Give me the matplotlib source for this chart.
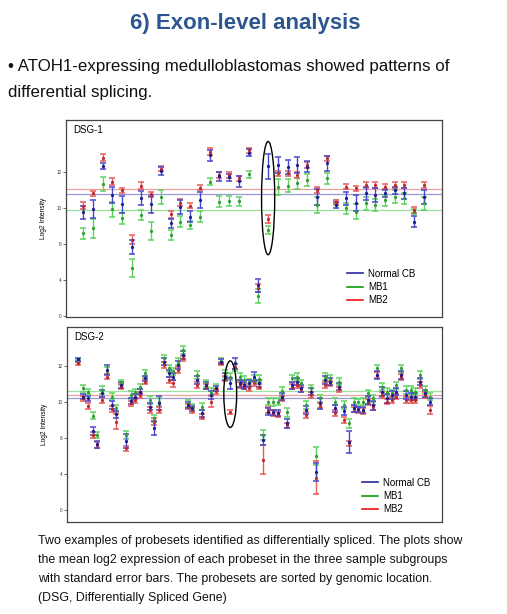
import numpy as np
import matplotlib
matplotlib.use('Agg')
import matplotlib.pyplot as plt
from matplotlib.patches import Ellipse
from matplotlib.lines import Line2D

plt.rcParams['font.family'] = ['Liberation Sans', 'DejaVu Sans']

# DSG-1: mean log2 intensity and standard error per probeset
dsg1_blue = [9.76, 9.94, 12.33, 10.72, 10.20, 7.82, 10.57, 10.20, 12.06, 9.15, 10.07, 9.52,
             10.44, 12.94, 11.78, 11.72, 11.50, 13.09, 5.70, 12.33, 12.39, 12.30, 12.39, 12.30,
             10.63, 12.48, 10.17, 10.54, 10.26, 10.82, 10.72, 10.82, 11.00, 10.82, 9.24, 10.63]
dsg1_blue_err = [.35, .50, .15, .43, .45, .40, .40, .45, .20, .25, .40, .30,
                 .45, .30, .25, .20, .30, .20, .35, .70, .45, .40, .45, .30,
                 .45, .40, .15, .35, .45, .35, .40, .20, .20, .30, .30, .40]
dsg1_green = [8.59, 8.87, 11.33, 9.93, 9.43, 6.69, 9.61, 8.72, 10.63, 8.50, 9.24, 9.06,
              9.52, 11.46, 10.35, 10.39, 10.39, 11.87, 5.10, 8.78, 11.19, 11.24, 11.37, 11.56,
              10.17, 11.65, 10.30, 9.98, 9.80, 10.26, 10.17, 10.44, 10.63, 10.54, 9.80, 10.26]
dsg1_green_err = [.30, .55, .40, .40, .30, .50, .30, .48, .40, .30, .30, .20,
                  .30, .20, .30, .30, .25, .20, .40, .20, .45, .35, .30, .35,
                  .45, .30, .15, .30, .40, .35, .35, .30, .35, .30, .15, .35]
dsg1_red = [10.13, 10.82, 12.80, 11.46, 10.98, 8.24, 11.24, 10.76, 12.20, 9.65, 10.30, 10.13,
            11.13, 13.13, 11.83, 11.83, 11.65, 13.22, 5.55, 9.39, 11.93, 11.93, 11.83, 12.39,
            11.00, 12.76, 10.35, 11.19, 11.09, 11.28, 11.28, 11.19, 11.28, 11.28, 9.89, 11.28]
dsg1_red_err = [.20, .15, .20, .20, .15, .25, .20, .15, .15, .20, .20, .15,
                .15, .20, .15, .15, .15, .15, .20, .20, .15, .15, .15, .15,
                .15, .15, .10, .15, .15, .15, .15, .15, .15, .15, .15, .15]
dsg1_means = {'blue': 10.78, 'green': 9.90, 'red': 11.06}
dsg1_circled = 19  # index of the circled probeset

# DSG-2
dsg2_blue = [12.37, 10.30, 10.20, 8.39, 7.65, 10.48, 11.78, 9.83, 9.31, 10.94, 7.83, 10.06,
             10.30, 10.57, 11.31, 9.74, 8.54, 9.93, 12.24, 11.59, 11.41, 12.06, 12.61, 9.83,
             9.65, 11.22, 9.37, 10.94, 10.39, 10.76, 12.24, 11.41, 11.04, 12.15, 11.04, 10.94,
             11.04, 11.41, 11.04, 7.89, 9.46, 9.42, 9.40, 10.30, 8.81, 10.94, 11.13, 10.76,
             9.56, 10.57, 6.10, 9.93, 11.22, 11.13, 9.65, 10.85, 9.50, 7.79, 9.65, 9.60,
             9.56, 10.11, 9.83, 11.50, 10.57, 10.20, 10.39, 10.57, 11.50, 10.39, 10.30, 10.30,
             11.13, 10.48, 10.02]
dsg2_blue_err = [.10, .15, .15, .20, .20, .20, .30, .20, .20, .15, .40, .15,
                 .15, .15, .15, .20, .40, .40, .20, .20, .20, .20, .20, .15,
                 .15, .20, .20, .20, .20, .15, .15, .20, .30, .30, .20, .20,
                 .20, .25, .20, .30, .20, .15, .15, .20, .25, .20, .20, .20,
                 .20, .20, .50, .30, .20, .20, .20, .20, .20, .60, .20, .15,
                 .15, .20, .25, .20, .25, .25, .20, .20, .20, .20, .20, .20,
                 .20, .20, .20]
dsg2_green = [12.30, 10.76, 10.57, 9.24, 8.17, 10.67, 11.75, 10.30, 9.65, 11.09, 8.17, 10.39,
              10.57, 10.85, 11.59, 10.11, 9.09, 10.00, 12.43, 11.87, 11.70, 12.24, 12.89, 9.93,
              9.74, 11.50, 9.74, 11.04, 10.57, 10.85, 12.30, 11.59, 11.41, 11.90, 11.41, 11.22,
              11.13, 11.30, 11.30, 8.17, 10.02, 10.00, 10.02, 10.61, 9.42, 11.31, 11.41, 11.04,
              9.83, 10.76, 7.00, 10.20, 11.41, 11.30, 10.02, 11.13, 9.83, 8.81, 10.02, 9.98,
              10.02, 10.48, 10.20, 11.87, 10.85, 10.57, 10.48, 10.94, 11.87, 10.67, 10.67, 10.57,
              11.50, 10.67, 10.30]
dsg2_green_err = [.10, .20, .15, .20, .15, .20, .20, .20, .20, .15, .20, .20,
                  .15, .15, .20, .20, .20, .20, .20, .20, .20, .20, .20, .20,
                  .15, .20, .20, .20, .20, .15, .15, .20, .20, .20, .20, .20,
                  .15, .20, .20, .30, .20, .20, .20, .20, .25, .20, .20, .20,
                  .20, .20, .50, .20, .20, .20, .20, .20, .20, .25, .20, .20,
                  .20, .20, .20, .20, .20, .20, .20, .20, .20, .20, .20, .20,
                  .20, .20, .20]
dsg2_red = [12.15, 10.20, 9.78, 8.17, 7.60, 10.11, 11.41, 9.61, 8.91, 10.85, 7.43, 9.93,
            10.10, 10.40, 11.13, 9.56, 8.90, 9.56, 12.06, 11.22, 11.04, 11.78, 12.43, 9.74,
            9.56, 10.94, 9.19, 10.85, 10.02, 10.60, 12.15, 11.31, 9.46, 11.96, 10.94, 10.85,
            10.76, 11.04, 10.85, 6.80, 9.56, 9.40, 9.30, 10.20, 8.70, 10.85, 10.94, 10.70,
            9.28, 10.40, 5.80, 9.80, 10.94, 11.04, 9.40, 10.70, 9.00, 7.70, 9.60, 9.55,
            9.50, 10.00, 9.70, 11.50, 10.40, 10.02, 10.11, 10.30, 11.40, 10.11, 10.11, 10.11,
            10.94, 10.40, 9.56]
dsg2_red_err = [.10, .15, .15, .15, .15, .15, .15, .15, .40, .15, .15, .15,
                .15, .15, .15, .15, .20, .15, .15, .15, .20, .15, .15, .15,
                .15, .15, .15, .15, .30, .15, .10, .15, .10, .15, .15, .15,
                .15, .15, .15, .80, .15, .15, .15, .15, .15, .15, .15, .15,
                .15, .15, .90, .15, .15, .15, .15, .15, .15, .15, .15, .15,
                .15, .15, .15, .15, .15, .15, .15, .15, .15, .15, .15, .15,
                .15, .15, .20]
dsg2_means = {'blue': 10.22, 'green': 10.60, 'red': 10.38}
dsg2_circled = 32

legend_labels = ['Normal CB', 'MB1', 'MB2']
ytick_pos = [4, 6, 8, 10, 12]
ytick_labels = ['0', '4', '8', '10', '12']

bar_col = {'blue': '#4848cc', 'green': '#5cd45c', 'red': '#e85a5a'}
dot_col = {'blue': '#1c1c8c', 'green': '#2e9e2e', 'red': '#c02828'}
mean_col = {'blue': '#9a9ad8', 'green': '#9ee09e', 'red': '#e8a0a0'}
leg_col = ['#2a2aa0', '#109a10', '#f01010']

W, H = 507, 614
fig = plt.figure(figsize=(W / 100, H / 100), dpi=100)


def px_axes(left, top, right, bottom):
    return fig.add_axes([left / W, 1 - bottom / H, (right - left) / W, (bottom - top) / H])


def panel(ax, series, means, circled, ell_w, ell_h, name, xlim, ylim, capsize, leg_anchor):
    n = len(series[0][1])
    x = np.arange(n)
    for key in ['green', 'red', 'blue']:
        ax.axhline(means[key], color=mean_col[key], lw=0.9, zorder=1)
    for key, vals, errs in series:
        ax.errorbar(x, vals, yerr=errs, fmt='.', ms=2.6, color=bar_col[key],
                    mfc=dot_col[key], mec=dot_col[key], elinewidth=1.0,
                    capsize=capsize, capthick=1.1, zorder=2)
    d = dict((k, v) for k, v, _ in series)
    yc = (max(d[k][circled] for k in d) + min(d[k][circled] for k in d)) / 2
    ax.add_patch(Ellipse((circled, yc), ell_w, ell_h, fill=False, ec='black', lw=1.0, zorder=3))
    ax.set_xlim(*xlim)
    ax.set_ylim(*ylim)
    ax.set_xticks([])
    ax.set_yticks(ytick_pos, ytick_labels)
    ax.tick_params(axis='y', labelsize=3.3, length=2, width=0.5, pad=1, colors='#333333')
    for s in ax.spines.values():
        s.set_color('#444444')
        s.set_linewidth(0.9)
    ax.set_ylabel('Log2 Intensity', fontsize=4.8)
    ax.yaxis.set_label_coords(-0.05, 0.5)
    ax.text(0.019, 0.975, name, transform=ax.transAxes, fontsize=7, va='top', ha='left')
    handles = [Line2D([], [], color=c, lw=1.2) for c in leg_col]
    ax.legend(handles, legend_labels, loc='center left', bbox_to_anchor=leg_anchor,
              frameon=False, fontsize=7, handlelength=1.65, handletextpad=0.5,
              labelspacing=0.35, borderpad=0, borderaxespad=0)


ax1 = px_axes(66, 120, 442, 317)
panel(ax1,
      [('green', dsg1_green, dsg1_green_err), ('red', dsg1_red, dsg1_red_err),
       ('blue', dsg1_blue, dsg1_blue_err)],
      dsg1_means, dsg1_circled, 1.35, 6.3, 'DSG-1',
      (-1.75, 36.85), (3.94, 14.9), 2.5, (0.747, 0.152))

ax2 = px_axes(67, 327, 442, 522)
panel(ax2,
      [('green', dsg2_green, dsg2_green_err), ('red', dsg2_red, dsg2_red_err),
       ('blue', dsg2_blue, dsg2_blue_err)],
      dsg2_means, dsg2_circled, 2.7, 3.7, 'DSG-2',
      (-2.38, 76.6), (3.33, 14.17), 2.0, (0.787, 0.133))

fig.text(245 / W, 1 - 23 / H, '6) Exon-level analysis', ha='center', va='center',
         fontsize=16, fontweight='bold', color='#2d5590')
fig.text(8 / W, 1 - 66 / H, '\u2022 ATOH1-expressing medulloblastomas showed patterns of',
         ha='left', va='center', fontsize=12.2, color='#111111')
fig.text(8 / W, 1 - 92 / H, 'differential splicing.', ha='left', va='center',
         fontsize=12.2, color='#111111')

caption = ['Two examples of probesets identified as differentially spliced. The plots show',
           'the mean log2 expression of each probeset in the three sample subgroups',
           'with standard error bars. The probesets are sorted by genomic location.',
           '(DSG, Differentially Spliced Gene)']
for i, line in enumerate(caption):
    fig.text(38 / W, 1 - (541 + 19 * i) / H, line, ha='left', va='center',
             fontsize=8.9, color='#111111')

fig.savefig('out.png', dpi=100)
